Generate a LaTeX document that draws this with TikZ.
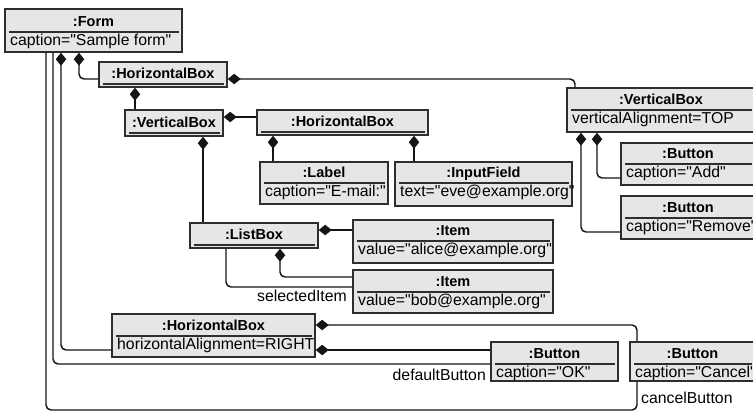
\documentclass[tikz,border=0pt]{standalone}
\usepackage{fontspec}
\setmainfont{Liberation Sans}[Ligatures=TeXOff]
\usetikzlibrary{arrows.meta,fit,calc}
\definecolor{boxfill}{HTML}{E6E6E6}
\definecolor{boxline}{HTML}{2E2E2E}
\definecolor{connline}{HTML}{151515}
\tikzset{
 objbox/.style={draw=boxline, fill=boxfill, line width=1.4pt, inner sep=0pt},
 ttl/.style={font=\fontsize{14.5}{16}\selectfont\bfseries, anchor=base, inner sep=0pt},
 attr/.style={font=\fontsize{15.8}{18}\selectfont, anchor=base west, inner sep=0pt},
 sepline/.style={draw=boxline, line width=1.2pt},
 conn/.style={draw=connline, line width=1.45pt, rounded corners=5pt},
 comp/.style={conn, {Diamond[length=13pt,width=10.5pt,fill=connline]}-},
 lbl/.style={font=\fontsize{15.8}{18}\selectfont, inner sep=0pt},
}
% name, x1, y1, x2, y2, ysep, title, attribute
\newcommand\objA[8]{%
 \node[objbox, fit={(#2,#3) (#4,#5)}] (#1) {};
 \draw[sepline] ({#2+4},#6) -- ({#4-3},#6);
 \node[ttl] at ({(#2+#4)/2},{#6-5.5}) {#7};
 \node[attr] at ({#2+5},{#6+13.5}) {#8};
}
% name, x1, y1, x2, y2, title
\newcommand\objB[6]{%
 \node[objbox, fit={(#2,#3) (#4,#5)}] (#1) {};
 \draw[sepline] ({#2+4},{#5-3}) -- ({#4-3},{#5-3});
 \node[ttl] at ({(#2+#4)/2},{#5-9}) {#6};
}
\begin{document}
\begin{tikzpicture}[x=1pt,y=-1pt]
\fill[white] (0,0) rectangle (753,413);
\useasboundingbox (0,0) rectangle (753,413);

\objA{form}{5}{9}{182}{52}{32}{:Form}{caption="Sample form"}
\objB{hbox1}{99}{62}{227}{87}{:HorizontalBox}
\objB{vbox1}{125}{110}{223}{136}{:VerticalBox}
\objB{hbox2}{257}{110}{428}{135}{:HorizontalBox}
\objA{label}{260}{162}{388}{204}{183}{:Label}{caption="E-mail:"}
\objA{input}{395}{162}{572}{206}{183}{:InputField}{text="eve@example.org"}
\objA{vbox2}{567}{88}{755}{132}{110}{:VerticalBox}{verticalAlignment=TOP}
\objA{add}{621}{143}{755}{185}{164}{:Button}{caption="Add"}
\objA{remove}{621}{196}{755}{239}{218}{:Button}{caption="Remove"}
\objB{listbox}{190}{223}{318}{248}{:ListBox}
\objA{item1}{353}{220}{553}{263}{241}{:Item}{value="alice@example.org"}
\objA{item2}{353}{270}{553}{313}{292}{:Item}{value="bob@example.org"}
\objA{hbox3}{112}{314}{315}{357}{336}{:HorizontalBox}{horizontalAlignment=RIGHT}
\objA{ok}{491}{342}{618}{381}{364}{:Button}{caption="OK"}
\objA{cancel}{630}{342}{755}{381}{364}{:Button}{caption="Cancel"}

% compositions
\draw[comp] (79,0 |- form.south) |- (hbox1.west |- 0,79);
\draw[comp] (61,0 |- form.south) |- (hbox3.west |- 0,350);
\draw[comp] (hbox1.east |- 0,79) -| (575,0 |- vbox2.north);
\draw[comp] (135,0 |- hbox1.south) -- (135,0 |- vbox1.north);
\draw[comp] (vbox1.east |- 0,117) -- (hbox2.west |- 0,117);
\draw[comp] (203,0 |- vbox1.south) -- (203,0 |- listbox.north);
\draw[comp] (273,0 |- hbox2.south) -- (273,0 |- label.north);
\draw[comp] (414,0 |- hbox2.south) -- (414,0 |- input.north);
\draw[comp] (597,0 |- vbox2.south) |- (add.west |- 0,178);
\draw[comp] (581,0 |- vbox2.south) |- (remove.west |- 0,232);
\draw[comp] (listbox.east |- 0,230) -- (item1.west |- 0,230);
\draw[comp] (280,0 |- listbox.south) |- (item2.west |- 0,277);
\draw[comp] (hbox3.east |- 0,325) -| (637,0 |- cancel.north);
\draw[comp] (hbox3.east |- 0,350) -- (ok.west |- 0,350);

% associations
\draw[conn] (226,0 |- listbox.south) |- (item2.west |- 0,287);
\node[lbl, anchor=base east] (selLbl) at (347,301) {selectedItem};
\draw[conn] (53,0 |- form.south) |- (ok.west |- 0,364);
\node[lbl, anchor=base east] (defLbl) at (486,380) {defaultButton};
\coordinate (cbturn) at (637,410);
\draw[conn] (46,0 |- form.south) |- (cbturn) -- (637,0 |- cancel.south);
\node[lbl, anchor=base west] (canLbl) at (641,403) {cancelButton};
\end{tikzpicture}
\end{document}
